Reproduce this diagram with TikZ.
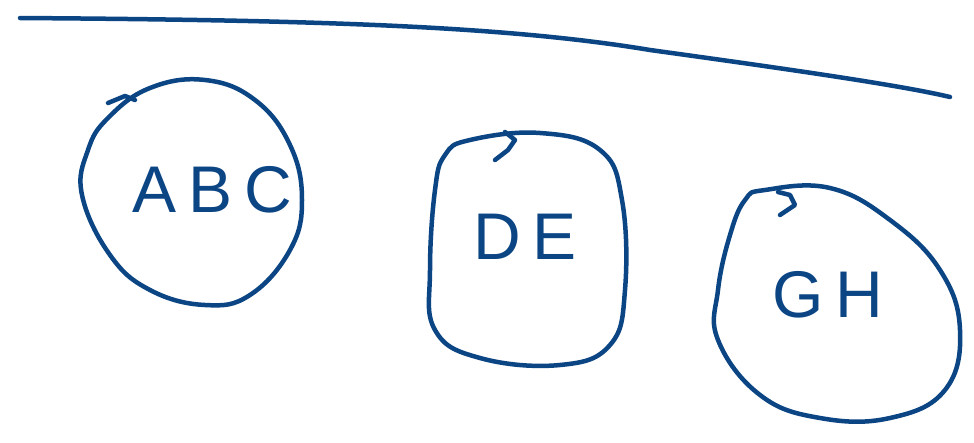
\documentclass[tikz,border=0pt]{standalone}
\usepackage{fontspec}
\setmainfont{Liberation Sans}
\definecolor{ink}{HTML}{0B4584}
\tikzset{
  stroke/.style={draw=ink, line width=4.5pt, line cap=round, line join=round},
  handtext/.style={text=ink, font=\fontsize{66}{66}\selectfont\addfontfeature{LetterSpace=18}, inner sep=0pt}
}
\begin{document}
\begin{tikzpicture}[x=1pt,y=-1pt]
\useasboundingbox[fill=white] (0,0) rectangle (974,442);
% top line
\draw[stroke] (20,18) .. controls (300,20) and (500,25) .. (650,50) .. controls (780,68) and (900,85) .. (950,97);
% blob 1
\draw[stroke] plot[smooth cycle, tension=0.7] coordinates {(108,118) (150,88) (205,80) (255,100) (290,145) (302,200) (290,250) (250,295) (205,305) (150,290) (110,255) (82,195) (88,150)};
\draw[stroke] (108,103) -- (125,96) -- (135,100);
% blob 2
\draw[stroke] plot[smooth cycle, tension=0.7] coordinates {(470,140) (540,133) (600,150) (622,200) (625,290) (610,345) (560,365) (480,358) (435,330) (430,270) (435,190) (445,155)};
\draw[stroke] (495,160) -- (508,150) -- (515,140) -- (505,132);
% blob 3
\draw[stroke] plot[smooth cycle, tension=0.7] coordinates {(765,190) (830,188) (890,220) (940,270) (960,330) (945,390) (890,418) (820,418) (760,395) (718,340) (718,290) (730,235) (745,200)};
\draw[stroke] (780,215) -- (795,205) -- (790,195) -- (778,192);
% texts
\node[handtext] (abc) at (212,190) {ABC};
\node[handtext] (de) at (525,237) {DE};
\node[handtext] (gh) at (828,295) {GH};
\end{tikzpicture}
\end{document}
